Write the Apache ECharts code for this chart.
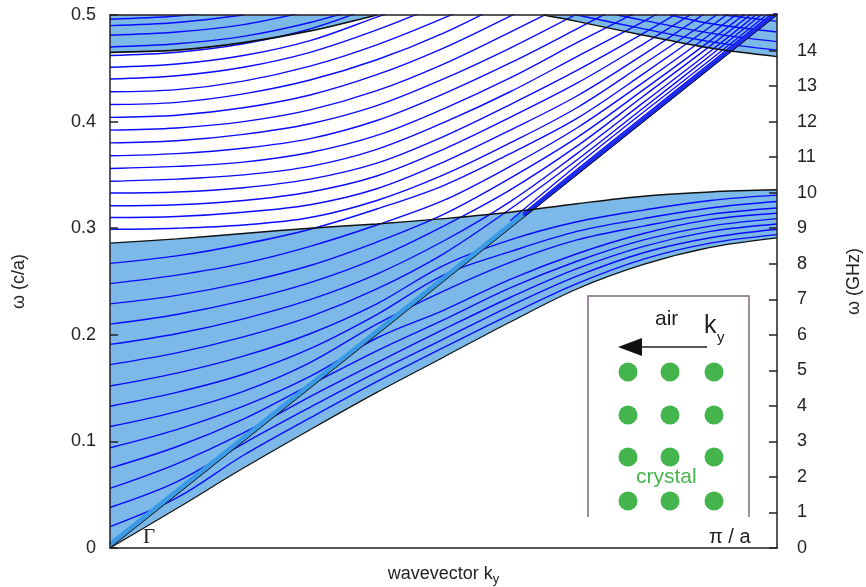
<!DOCTYPE html>
<html><head><meta charset="utf-8">
<script src="https://cdn.jsdelivr.net/npm/echarts@6/dist/echarts.min.js"></script>
<style>html,body{margin:0;padding:0;background:#fff;overflow:hidden}#c{position:absolute;left:0;top:0;width:866px;height:587px}</style>
</head><body><div id="c"></div><script>
// k_y as fraction of pi/a
const K = [0, 0.1, 0.2, 0.3, 0.4, 0.5, 0.6, 0.7, 0.8, 0.9, 1.0];
// crystal band edges (omega in c/a)
const lowerEdge = [0, 0.037, 0.075, 0.111, 0.146, 0.179, 0.212, 0.243, 0.266, 0.282, 0.291];
const band1Top = [0.286, 0.290, 0.295, 0.300, 0.304, 0.309, 0.315, 0.323, 0.330, 0.334, 0.336];
const band2LeftEdge = [[0, 0.465], [0.1, 0.467], [0.2, 0.474], [0.3, 0.485], [0.4, 0.5]];
const band2RightEdge = [[0.65, 0.5], [0.7, 0.494], [0.8, 0.481], [0.9, 0.469], [1.0, 0.461]];
const lightLine = [[0, 0], [1, 0.5]];
// supercell bands leaving band 1 below the light line (values on K)
const guidedBands = [
  [0.020, 0.047, 0.087, 0.122, 0.156, 0.188, 0.219, 0.248, 0.271, 0.286, 0.294],
  [0.038, 0.062, 0.098, 0.132, 0.165, 0.196, 0.227, 0.255, 0.277, 0.291, 0.299],
  [0.056, 0.079, 0.108, 0.142, 0.174, 0.205, 0.235, 0.262, 0.283, 0.297, 0.304],
  [0.075, 0.095, 0.121, 0.153, 0.185, 0.214, 0.244, 0.269, 0.289, 0.302, 0.309],
  [0.094, 0.111, 0.133, 0.161, 0.197, 0.223, 0.252, 0.276, 0.295, 0.308, 0.314],
  [0.114, 0.128, 0.147, 0.174, 0.210, 0.241, 0.268, 0.289, 0.302, 0.313, 0.319],
  [0.133, 0.146, 0.163, 0.187, 0.219, 0.256, 0.278, 0.297, 0.309, 0.319, 0.325],
  [0.152, 0.164, 0.180, 0.201, 0.229, 0.265, 0.289, 0.306, 0.317, 0.326, 0.331]
];
// supercell bands leaving band 1 through its top edge
const crossingBands = [
  [0.172, 0.183, 0.198, 0.217, 0.243, 0.276, 0.318, 0.364, 0.413, 0.462, 0.512],
  [0.191, 0.201, 0.215, 0.233, 0.257, 0.288, 0.325, 0.370, 0.418, 0.466, 0.516],
  [0.210, 0.219, 0.232, 0.249, 0.272, 0.302, 0.336, 0.377, 0.424, 0.471, 0.520],
  [0.229, 0.237, 0.249, 0.265, 0.287, 0.313, 0.347, 0.385, 0.430, 0.476, 0.525],
  [0.248, 0.256, 0.267, 0.283, 0.303, 0.326, 0.358, 0.394, 0.437, 0.482, 0.530],
  [0.267, 0.274, 0.285, 0.299, 0.318, 0.340, 0.370, 0.403, 0.445, 0.489, 0.535]
];
// air bands starting in the gap
const airBands = [
  [0.299, 0.300, 0.303, 0.310, 0.326, 0.350, 0.380, 0.413, 0.454, 0.496, 0.540],
  [0.310, 0.311, 0.315, 0.322, 0.337, 0.362, 0.392, 0.424, 0.463, 0.505],
  [0.321, 0.322, 0.326, 0.334, 0.349, 0.374, 0.404, 0.436, 0.473, 0.512],
  [0.333, 0.334, 0.338, 0.346, 0.361, 0.386, 0.416, 0.448, 0.483, 0.520],
  [0.344, 0.346, 0.350, 0.358, 0.374, 0.399, 0.428, 0.461, 0.494, 0.530],
  [0.356, 0.358, 0.362, 0.371, 0.387, 0.412, 0.441, 0.474, 0.506],
  [0.368, 0.370, 0.375, 0.384, 0.401, 0.426, 0.455, 0.487, 0.520],
  [0.380, 0.382, 0.388, 0.398, 0.415, 0.440, 0.469, 0.501],
  [0.392, 0.394, 0.400, 0.411, 0.429, 0.454, 0.484, 0.515],
  [0.404, 0.406, 0.413, 0.425, 0.444, 0.469, 0.499, 0.530],
  [0.416, 0.418, 0.426, 0.439, 0.458, 0.483, 0.514],
  [0.428, 0.430, 0.438, 0.452, 0.472, 0.497, 0.525],
  [0.440, 0.443, 0.451, 0.465, 0.486, 0.511],
  [0.451, 0.454, 0.462, 0.476, 0.498, 0.520],
  [0.462, 0.465, 0.473, 0.487, 0.509],
  [0.470, 0.473, 0.480, 0.493, 0.511],
  [0.481, 0.484, 0.491, 0.504],
  [0.490, 0.493, 0.500],
  [0.496, 0.499, 0.506]
];
// bands hugging the light line above the crossing point
const fanBands = [
  [[0.6, 0.302], [0.7, 0.352], [0.8, 0.402], [0.9, 0.452], [1.0, 0.502]],
  [[0.6, 0.304], [0.7, 0.355], [0.8, 0.405], [0.9, 0.455], [1.0, 0.505]],
  [[0.6, 0.307], [0.7, 0.359], [0.8, 0.409], [0.9, 0.458], [1.0, 0.508]]
];
const band2Lines = [
  [[0.70, 0.5], [0.8, 0.487], [0.9, 0.475], [1.0, 0.467]],
  [[0.76, 0.5], [0.8, 0.495], [0.9, 0.483], [1.0, 0.475]],
  [[0.84, 0.5], [0.9, 0.492], [1.0, 0.484]],
  [[0.92, 0.5], [1.0, 0.494]]
];
const lightLineBunchLow = [[0, 0.003], [0.3, 0.153], [0.62, 0.313]];
const lightLineBunchHigh = [[0.62, 0.312], [0.8, 0.402], [1.0, 0.502]];
const leftTicks = [0, 0.1, 0.2, 0.3, 0.4, 0.5];
const rightTicks = [0,1,2,3,4,5,6,7,8,9,10,11,12,13,14];

const onK = v => v.map((w, i) => [K[i], w]);
const BLUE = '#0a0aff', FILL = '#7cb9e8';
const series = [];
function line(data, color, width, z, extra) {
  series.push(Object.assign({type: 'line', data, symbol: 'none', smooth: 0.35, silent: true,
    animation: false, z, lineStyle: {color, width}}, extra || {}));
}
line(onK(band1Top), FILL, 0, 1, {areaStyle: {color: FILL, opacity: 1, origin: 'start'}});
line(onK(lowerEdge), '#fff', 0, 2, {areaStyle: {color: '#fff', opacity: 1, origin: 'start'}});
line(band2LeftEdge, FILL, 0, 1, {areaStyle: {color: FILL, opacity: 1, origin: 'end'}});
line(band2RightEdge, FILL, 0, 1, {areaStyle: {color: FILL, opacity: 1, origin: 'end'}});
guidedBands.forEach(b => line(onK(b), BLUE, 1.4, 3));
crossingBands.forEach(b => line(onK(b), BLUE, 1.4, 3));
airBands.forEach(b => line(onK(b), BLUE, 1.4, 3));
fanBands.forEach(b => line(b, BLUE, 1.3, 3));
band2Lines.forEach(b => line(b, BLUE, 1.4, 3));
line(lightLineBunchLow, '#3a9ae6', 5, 3, {smooth: false});
line(lightLineBunchHigh, '#1a2af0', 4, 3, {smooth: false});
line(onK(lowerEdge), '#111', 1.2, 4);
line(onK(band1Top), '#111', 1.4, 4);
line(band2LeftEdge, '#111', 1.8, 4);
line(band2RightEdge, '#111', 1.4, 4);
line(lightLine, '#111', 1, 4, {smooth: false});

const chart = echarts.init(document.getElementById('c'), null, {renderer: 'canvas', width: 866, height: 587});
const axisLine = {show: true, onZero: false, lineStyle: {color: '#222', width: 1.5}};
const lab = {color: '#222', fontSize: 18, fontFamily: 'Liberation Sans, Arial, sans-serif'};
chart.setOption({
  animation: false,
  grid: {left: 110, right: 89, top: 15, bottom: 39, containLabel: false, outerBoundsMode: 'none'},
  xAxis: [
    {type: 'value', min: 0, max: 1, z: 10, axisLine, axisTick: {show: false}, axisLabel: {show: false},
     splitLine: {show: false}, name: '{a|wavevector k}{b|y}', nameLocation: 'middle', nameGap: 15,
     nameTextStyle: {rich: {a: {fontSize: 18, color: '#222', fontFamily: 'Liberation Sans, Arial'},
       b: {fontSize: 13, color: '#222', fontFamily: 'Liberation Sans, Arial', padding: [10, 0, 0, 0]}}}},
    {type: 'value', min: 0, max: 1, position: 'top', z: 10, axisLine, axisTick: {show: false},
     axisLabel: {show: false}, splitLine: {show: false}}
  ],
  yAxis: [
    {type: 'value', min: 0, max: 0.5, interval: 0.1, z: 10, axisLine,
     axisTick: {show: true, inside: true, length: 8, lineStyle: {color: '#222', width: 1.5}},
     axisLabel: Object.assign({margin: 14, formatter: v => leftTicks.includes(+v.toFixed(1)) ? (v === 0 ? '0' : v.toFixed(1)) : ''}, lab),
     splitLine: {show: false}, name: 'ω (c/a)', nameLocation: 'middle', nameGap: 82, nameRotate: 90,
     nameTextStyle: {fontSize: 18, color: '#222', fontFamily: 'Liberation Sans, Arial'}},
    {type: 'value', min: 0, max: 15, interval: 1, position: 'right', z: 10, axisLine,
     axisTick: {show: true, inside: true, length: 8, lineStyle: {color: '#222', width: 1.5}},
     axisLabel: Object.assign({margin: 20, formatter: v => rightTicks.includes(v) ? String(v) : ''}, lab),
     splitLine: {show: false}, name: 'ω (GHz)', nameLocation: 'middle', nameGap: 68, nameRotate: 90,
     nameTextStyle: {fontSize: 18, color: '#222', fontFamily: 'Liberation Sans, Arial'}}
  ],
  series,
  graphic: [
    {type: 'text', left: 143, top: 527, z: 20, style: {text: 'Γ', fontSize: 21, fill: '#222', fontFamily: 'Liberation Serif, serif'}},
    {type: 'text', left: 709, top: 527, z: 20, style: {text: 'π / a', fontSize: 20, fill: '#222', fontFamily: 'Liberation Sans, Arial'}},
    {type: 'polyline', z: 20, shape: {points: [[588, 517], [588, 296], [749, 296], [749, 517]]}, style: {stroke: '#7a6a7a', lineWidth: 1.5, fill: null}},
    {type: 'text', left: 655, top: 309, z: 20, style: {text: 'air', fontSize: 21, fill: '#222', fontFamily: 'Liberation Sans, Arial'}},
    {type: 'text', left: 704, top: 314, z: 20, style: {text: 'k', fontSize: 25, fill: '#222', fontFamily: 'Liberation Sans, Arial'}},
    {type: 'text', left: 717, top: 330, z: 20, style: {text: 'y', fontSize: 15, fill: '#222', fontFamily: 'Liberation Sans, Arial'}},
    {type: 'line', z: 20, shape: {x1: 636, y1: 347, x2: 707, y2: 347}, style: {stroke: '#222', lineWidth: 1.5}},
    {type: 'polygon', z: 20, shape: {points: [[618, 347], [642, 338], [642, 356]]}, style: {fill: '#111'}},
    ...[372, 415, 457, 501].flatMap(cy => [628, 670, 714].map(cx => ({type: 'circle', z: 20, shape: {cx, cy, r: 9.5}, style: {fill: '#44b54c'}}))),
    {type: 'text', left: 636, top: 467, z: 21, style: {text: 'crystal', fontSize: 21, fill: '#44b54c', fontFamily: 'Liberation Sans, Arial'}}
  ]
});
</script></body></html>
